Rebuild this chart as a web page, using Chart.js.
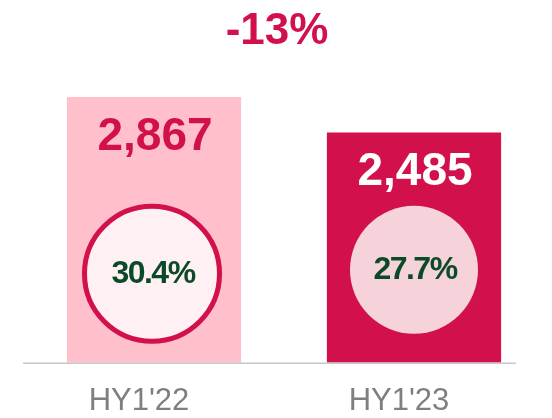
<!DOCTYPE html>
<html>
<head>
<meta charset="utf-8">
<script src="https://cdn.jsdelivr.net/npm/chart.js@4"></script>
<style>
  html, body { margin: 0; padding: 0; background: #fff; }
  #wrap { width: 552px; height: 418px; }
</style>
</head>
<body>
<div id="wrap"><canvas id="chart"></canvas></div>
<script>
// data
const periods = ["HY1'22", "HY1'23"];
const values = [2867, 2485];
const ratios = ['30.4%', '27.7%'];
const changeLabel = '-13%';

const barColors = ['#FFC0CB', '#D2104B'];
const crimson = '#D2104B';
const green = '#0B4A28';

// labels, circles and headline drawn on top of the bars
const overlay = {
    id: 'overlay',
    afterDatasetsDraw(chart) {
        const ctx = chart.ctx;
        const meta = chart.getDatasetMeta(0);
        const area = chart.chartArea;
        ctx.save();

        meta.data.forEach(function(bar, i) {
            // value inside the bar, near its top
            ctx.font = 'bold 46px "Liberation Sans", Arial, sans-serif';
            ctx.textAlign = 'center';
            ctx.textBaseline = 'alphabetic';
            ctx.fillStyle = i === 0 ? crimson : '#FFFFFF';
            ctx.fillText(values[i].toLocaleString('en-US'), bar.x + 1, bar.y + 53);

            // circle with ratio
            const cy = area.bottom - (i === 0 ? 89 : 93);
            const cx = bar.x + (i === 0 ? -2 : 0);
            ctx.beginPath();
            if (i === 0) {
                ctx.arc(cx, cy, 67.5, 0, Math.PI * 2);
                ctx.fillStyle = '#FFF0F3';
                ctx.fill();
                ctx.lineWidth = 5;
                ctx.strokeStyle = crimson;
                ctx.stroke();
            } else {
                ctx.arc(cx, cy, 64, 0, Math.PI * 2);
                ctx.fillStyle = '#F6D2DB';
                ctx.fill();
            }

            ctx.font = 'bold 32px "Liberation Sans", Arial, sans-serif';
            ctx.letterSpacing = '-1.5px';
            ctx.fillStyle = green;
            ctx.fillText(ratios[i], cx + 1, cy + 9);
            ctx.letterSpacing = '0px';
        });

        // baseline
        ctx.beginPath();
        ctx.moveTo(23, area.bottom + 0.5);
        ctx.lineTo(516, area.bottom + 0.5);
        ctx.lineWidth = 1.5;
        ctx.strokeStyle = '#C8C8C8';
        ctx.stroke();

        // headline change
        ctx.font = 'bold 44px "Liberation Sans", Arial, sans-serif';
        ctx.textAlign = 'center';
        ctx.fillStyle = crimson;
        ctx.fillText(changeLabel, chart.width / 2 + 1, 44);

        ctx.restore();
    }
};

new Chart(document.getElementById('chart'), {
    type: 'bar',
    data: {
        labels: periods,
        datasets: [{
            data: values,
            backgroundColor: barColors,
            borderWidth: 0,
            categoryPercentage: 1,
            barPercentage: 0.67
        }]
    },
    options: {
        responsive: true,
        maintainAspectRatio: false,
        animation: false,
        layout: { padding: { top: 29, left: 24, right: 8, bottom: -22 } },
        plugins: {
            legend: { display: false },
            tooltip: { enabled: false }
        },
        scales: {
            x: {
                border: { display: false },
                grid: { display: false, drawTicks: false },
                ticks: {
                    color: '#7F7F7F',
                    padding: 20,
                    labelOffset: -15,
                    font: { family: '"Liberation Sans", Arial, sans-serif', size: 31 }
                }
            },
            y: {
                display: false,
                min: 0,
                max: 3600
            }
        }
    },
    plugins: [overlay]
});
</script>
</body>
</html>
